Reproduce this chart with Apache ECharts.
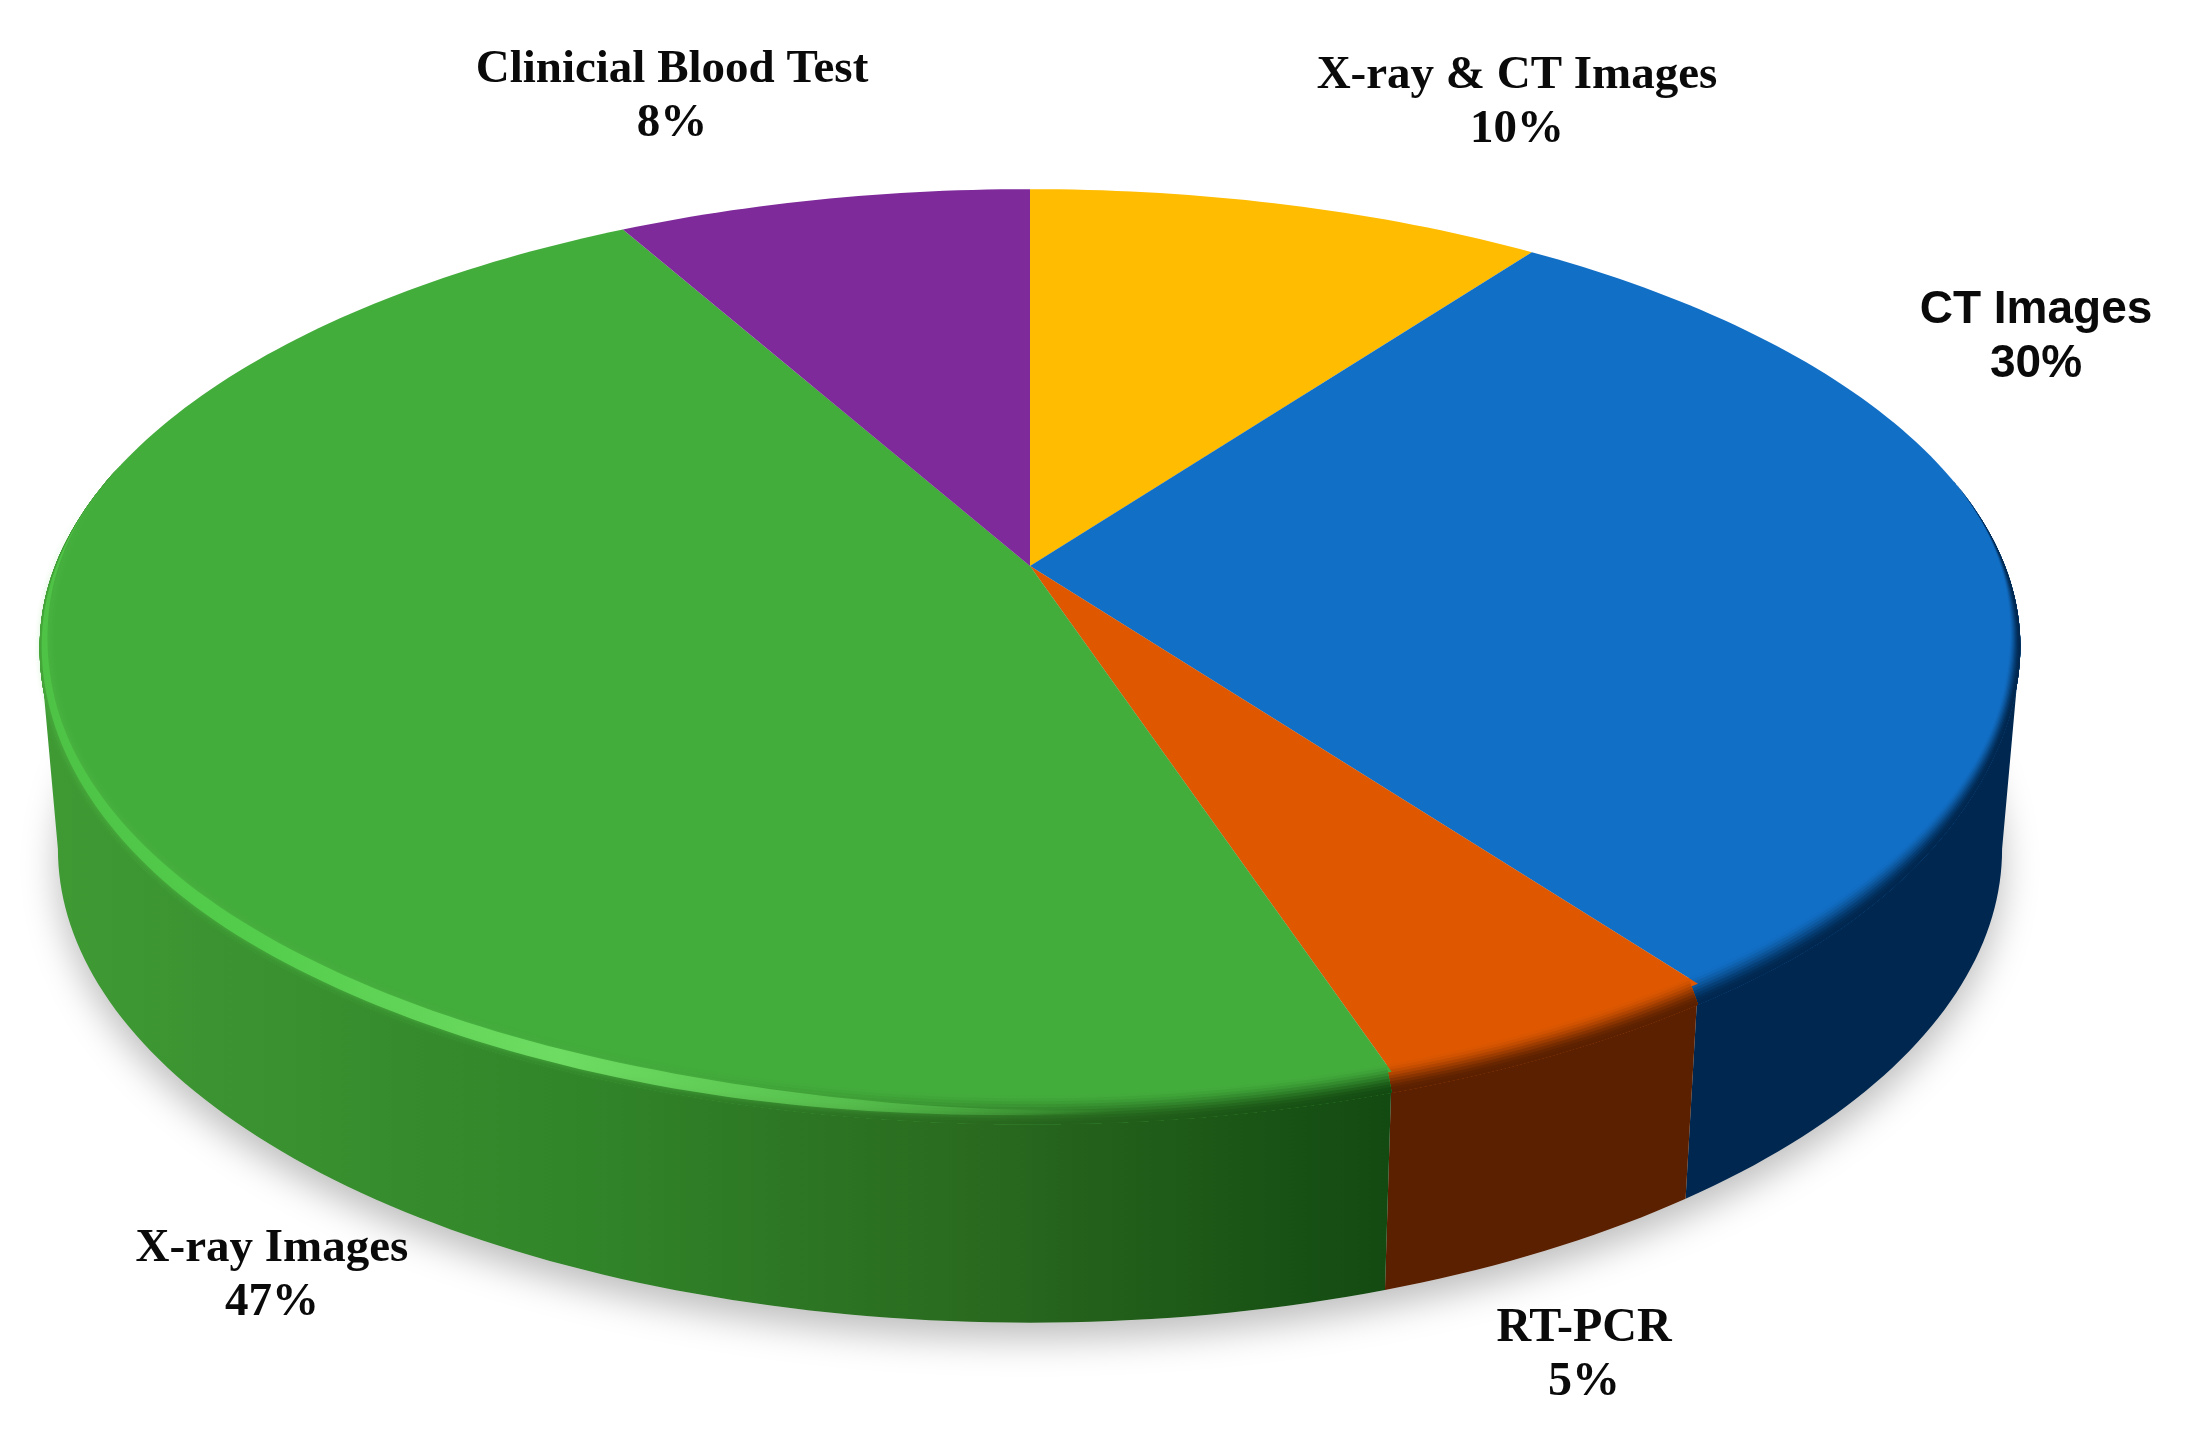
<!DOCTYPE html>
<html>
<head>
<meta charset="utf-8">
<style>
    html, body { margin: 0; padding: 0; background: #fff; }
    #chart { width: 2191px; height: 1453px; }
</style>
<script src="https://cdn.jsdelivr.net/npm/echarts@6/dist/echarts.min.js"></script>
</head>
<body>
<div id="chart"></div>
<script>
// data, clockwise from 12 o'clock
const categories = ['X-ray & CT Images', 'CT Images', 'RT-PCR', 'X-ray Images', 'Clinicial Blood Test'];
const percents = [10, 30, 5, 47, 8];

// styles
const topColors = ['#ffbc00', '#126fc6', '#df5800', '#43ad3c', '#7e2a9b'];
const sideStops = [
    [[0, '#a67a00'], [1, '#a67a00']],
    [[0, '#00274f'], [1, '#00274f']],
    [[0, '#5a2000'], [1, '#5a2000']],
    [[0, '#3f9a34'], [0.4, '#318529'], [0.7, '#29691f'], [1, '#134a11']],
    [[0, '#4e1a60'], [1, '#4e1a60']]
];
const labelFonts = ['Liberation Serif', 'Liberation Sans', 'Liberation Serif', 'Liberation Serif', 'Liberation Serif'];
const labelSizes = [47, 46, 48, 47, 47];
const labelSpots = [[1517, 103], [2036, 337], [1584, 1356], [272, 1276], [672, 97]];

// projection of the disc, perspective tilt k moves the apex off the ellipse centre
const k = 0.1755;
const topFace = { cx: 1030, cy: 566, a: 443, b: 975 };
const bottomFace = { cx: 1030, cy: 766, a: 459, b: 957 };
const greenLeft = 50, greenRight = 1390;
// where the disc's outline turns from top rim to side wall
const wallFrom = 100.1, wallTo = 259.9;
const rimDrop = 21, rimInset = 0.012;

function project(face, deg, r) {
    const t = deg * Math.PI / 180;
    const u = r * Math.sin(t), v = r * Math.cos(t);
    const w = 1 + k * v;
    return [face.cx + face.b * u / w, face.cy - face.a * v / w];
}

function arc(face, from, to) {
    const pts = [];
    const n = Math.max(2, Math.ceil(Math.abs(to - from)));
    for (let i = 0; i <= n; i++) {
        pts.push(project(face, from + (to - from) * i / n, 1));
    }
    return pts;
}

function smooth(e0, e1, x) {
    const t = Math.min(1, Math.max(0, (x - e0) / (e1 - e0)));
    return t * t * (3 - 2 * t);
}

// 1 on the front of the disc, 0 on the back
function frontness(d) {
    return smooth(78, 105, d) * (1 - smooth(255, 285, d));
}

// how far the rounded edge hangs below the flat face
function drop(d) {
    return smooth(100, 138, d) * (1 - smooth(225, 268, d));
}

// point across the rounded edge: part 0 is on the face, part 1 where the wall begins
function rimPoint(d, part) {
    const p0 = project(topFace, d, 1 - rimInset * frontness(d));
    const p1 = project(topFace, d, 1);
    p1[1] += rimDrop * drop(d);
    return [p0[0] + (p1[0] - p0[0]) * part, p0[1] + (p1[1] - p0[1]) * part];
}

function rimArc(from, to, partOf) {
    const pts = [];
    const n = Math.max(2, Math.ceil(Math.abs(to - from)));
    for (let i = 0; i <= n; i++) {
        const d = from + (to - from) * i / n;
        pts.push(rimPoint(d, partOf(d)));
    }
    return pts;
}

function sideFill(i, mix) {
    const stops = sideStops[i].map(function (s) {
        return { offset: s[0], color: echarts.color.lerp(mix, [topColors[i], s[1]]) };
    });
    return new echarts.graphic.LinearGradient(greenLeft, 0, greenRight, 0, stops, true);
}

const rows = [];
let acc = 0;
percents.forEach(function (p) {
    rows.push([acc, p]);
    acc += p;
});

const chart = echarts.init(document.getElementById('chart'));

function angles(api) {
    const s = api.value(0), p = api.value(1);
    return [s * 3.6, (s + p) * 3.6];
}

function renderShadow(params) {
    if (params.dataIndex !== 0) return { type: 'group', children: [] };
    return {
        type: 'polygon',
        shape: { points: arc(bottomFace, 0, 360) },
        style: { fill: '#dcdcdc', shadowBlur: 36, shadowColor: 'rgba(0,0,0,0.26)', shadowOffsetY: 16 }
    };
}

function renderSide(params, api) {
    const a = angles(api);
    const i = params.dataIndex;
    const from = Math.max(a[0], wallFrom), to = Math.min(a[1], wallTo);
    if (from >= to) return { type: 'group', children: [] };
    const upper = arc(topFace, from, to);
    const lower = arc(bottomFace, to, from);
    return {
        type: 'polygon',
        shape: { points: upper.concat(lower) },
        style: { fill: sideFill(i, 1) }
    };
}

function renderTop(params, api) {
    const a = angles(api);
    const i = params.dataIndex;
    const apex = [topFace.cx, topFace.cy];
    const children = [{
        type: 'polygon',
        shape: { points: [apex].concat(arc(topFace, a[0], a[1])) },
        style: { fill: topColors[i] }
    }];
    // soft rounded edge: stacked bands going from the face colour to the side colour
    const layers = 10;
    if (a[1] > 78 && a[0] < 285) {
        const outer = rimArc(a[1], a[0], function () { return 1; });
        for (let j = 0; j < layers; j++) {
            const part = j / layers;
            const mix = (j + 1) / layers;
            const inner = rimArc(a[0], a[1], function () { return part; });
            children.push({
                type: 'polygon',
                shape: { points: inner.concat(outer) },
                style: { fill: sideFill(i, mix * mix * (3 - 2 * mix)) }
            });
        }
    }
    // highlight along the green rim
    if (percents[i] === 47) {
        const taper = function (d) { return smooth(168, 200, d) * (1 - smooth(258, 300, d)); };
        const inner = rimArc(a[0], a[1], function (d) { return 0.6 - 0.3 * taper(d); });
        const outer = rimArc(a[1], a[0], function (d) { return 0.6 + 0.22 * taper(d); });
        children.push({
            type: 'polygon',
            shape: { points: inner.concat(outer) },
            style: {
                fill: new echarts.graphic.LinearGradient(greenLeft, 0, greenRight, 0, [
                    { offset: 0, color: 'rgba(78,196,70,0.95)' },
                    { offset: 0.15, color: 'rgba(84,206,76,0.95)' },
                    { offset: 0.38, color: 'rgba(112,222,100,0.95)' },
                    { offset: 0.6, color: 'rgba(100,210,90,0.6)' },
                    { offset: 0.8, color: 'rgba(90,200,80,0)' }
                ], true),
                shadowBlur: 7,
                shadowColor: 'rgba(90,210,80,0.55)'
            }
        });
    }
    return { type: 'group', children: children };
}

function renderLabel(params) {
    const i = params.dataIndex;
    return {
        type: 'text',
        x: labelSpots[i][0],
        y: labelSpots[i][1],
        style: {
            text: categories[i] + '\n' + percents[i] + '%',
            fontFamily: labelFonts[i],
            fontSize: labelSizes[i],
            fontWeight: 'bold',
            lineHeight: 54,
            fill: '#0a0a0a',
            align: 'center',
            verticalAlign: 'middle'
        }
    };
}

function layer(name, z, fn) {
    return {
        type: 'custom',
        name: name,
        coordinateSystem: 'none',
        z: z,
        silent: true,
        clip: false,
        data: rows,
        renderItem: fn
    };
}

chart.setOption({
    animation: false,
    backgroundColor: '#fff',
    series: [
        layer('shadow', 1, renderShadow),
        layer('side', 2, renderSide),
        layer('top', 3, renderTop),
        layer('labels', 4, renderLabel)
    ]
});
</script>
</body>
</html>
